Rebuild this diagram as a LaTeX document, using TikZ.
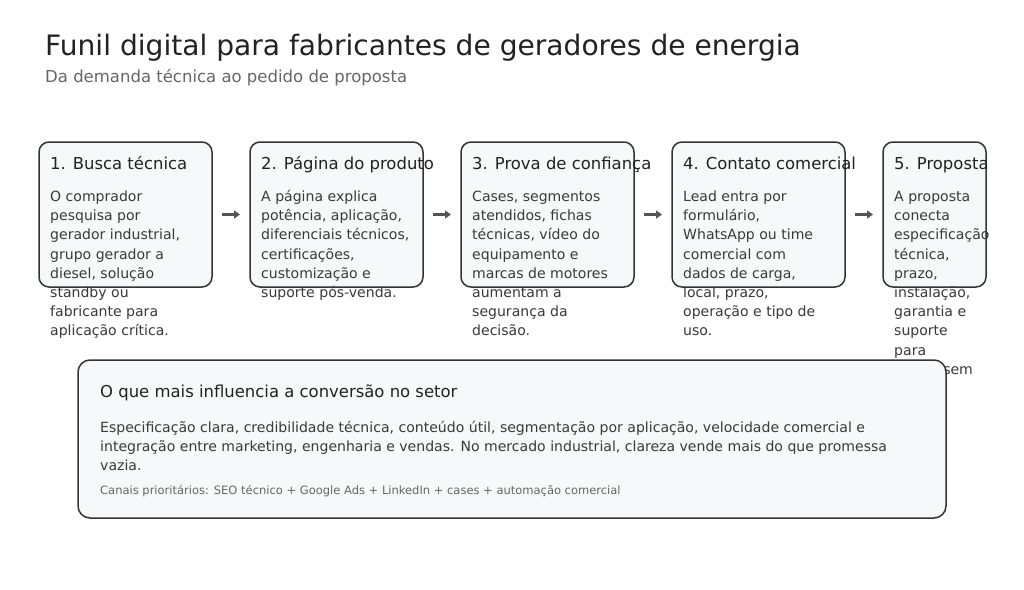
\documentclass[tikz,border=0pt]{standalone}
\usepackage{fontspec}
\setmainfont{DejaVu Sans}
\usetikzlibrary{arrows.meta}
\definecolor{boxfill}{HTML}{F7F8FA}
\definecolor{boxline}{HTML}{333333}
\definecolor{ttl}{HTML}{222222}
\definecolor{subc}{HTML}{666666}
\definecolor{bodyc}{HTML}{3A3A3A}
\definecolor{arrc}{HTML}{555555}
\begin{document}
\begin{tikzpicture}[x=1pt,y=-1pt,
 stepbox/.style={draw=boxline, fill=boxfill, line width=1.5pt, rounded corners=10pt, minimum height=145pt, inner sep=0pt, outer sep=0pt, anchor=north west},
 infobox/.style={draw=boxline, fill=boxfill, line width=1.5pt, rounded corners=12pt, inner sep=0pt, outer sep=0pt, anchor=north west},
 head/.style={anchor=base west, inner sep=0pt, font=\fontsize{16.45}{19}\selectfont, text=ttl},
 bodyline/.style={anchor=base west, inner sep=0pt, font=\fontsize{14.05}{17}\selectfont, text=bodyc},
 smallline/.style={anchor=base west, inner sep=0pt, font=\fontsize{11.5}{13}\selectfont, text=subc},
 flow/.style={draw=arrc, line width=2.5pt, -{Triangle[length=6pt,width=8pt]}},
]
\useasboundingbox[fill=white] (0,0) rectangle (1024,589);

\node[anchor=base west, inner sep=0pt, font=\fontsize{28.1}{34}\selectfont, text=ttl] (title) at (45,55) {Funil digital para fabricantes de geradores de energia};
\node[anchor=base west, inner sep=0pt, font=\fontsize{16.5}{19}\selectfont, text=subc] (subtitle) at (45,82) {Da demanda técnica ao pedido de proposta};

% step boxes
\node[stepbox, minimum width=173pt] (s1) at (39,142) {};
\node[stepbox, minimum width=173pt] (s2) at (250,142) {};
\node[stepbox, minimum width=173pt] (s3) at (461,142) {};
\node[stepbox, minimum width=173pt] (s4) at (672,142) {};
\node[stepbox, minimum width=103pt] (s5) at (883,142) {};

\node[head] (h1) at (50,169) {1. Busca técnica};
\node[head] (h2) at (261,169) {2. Página do produto};
\node[head] (h3) at (472,169) {3. Prova de confiança};
\node[head] (h4) at (683,169) {4. Contato comercial};
\node[head] (h5) at (894,169) {5. Proposta};

\foreach \l [count=\i from 0] in {{O comprador},{pesquisa por},{gerador industrial,},{grupo gerador a},{diesel, solução},{standby ou},{fabricante para},{aplicação crítica.}}
  \node[bodyline] (ta-\i) at (50,201.5+19.2*\i) {\l};
\foreach \l [count=\i from 0] in {{A página explica},{potência, aplicação,},{diferenciais técnicos,},{certificações,},{customização e},{suporte pós-venda.}}
  \node[bodyline] (tb-\i) at (261,201.5+19.2*\i) {\l};
\foreach \l [count=\i from 0] in {{Cases, segmentos},{atendidos, fichas},{técnicas, vídeo do},{equipamento e},{marcas de motores},{aumentam a},{segurança da},{decisão.}}
  \node[bodyline] (tc-\i) at (472,201.5+19.2*\i) {\l};
\foreach \l [count=\i from 0] in {{Lead entra por},{formulário,},{WhatsApp ou time},{comercial com},{dados de carga,},{local, prazo,},{operação e tipo de},{uso.}}
  \node[bodyline] (td-\i) at (683,201.5+19.2*\i) {\l};
\foreach \l [count=\i from 0] in {{A proposta},{conecta},{especificação},{técnica,},{prazo,},{instalação,},{garantia e},{suporte},{para},{\phantom{fechar} sem}}
  \node[bodyline] (te-\i) at (894,201.5+19.2*\i) {\l};

% arrows
\draw[flow] ([xshift=10pt]s1.east) -- ([xshift=-10pt]s2.west);
\draw[flow] ([xshift=10pt]s2.east) -- ([xshift=-10pt]s3.west);
\draw[flow] ([xshift=10pt]s3.east) -- ([xshift=-10pt]s4.west);
\draw[flow] ([xshift=10pt]s4.east) -- ([xshift=-10pt]s5.west);

% info box
\node[infobox, minimum width=868pt, minimum height=158pt] (info) at (78,360) {};
\node[head] (ih) at (100,397) {O que mais influencia a conversão no setor};
\foreach \l [count=\i from 0] in {{Especificação clara, credibilidade técnica, conteúdo útil, segmentação por aplicação, velocidade comercial e},{integração entre marketing, engenharia e vendas. No mercado industrial, clareza vende mais do que promessa},{vazia.}}
  \node[bodyline] (ib-\i) at (100,432+19.2*\i) {\l};
\node[smallline] (isml) at (100,494) {Canais prioritários: SEO técnico + Google Ads + LinkedIn + cases + automação comercial};
\end{tikzpicture}
\end{document}
